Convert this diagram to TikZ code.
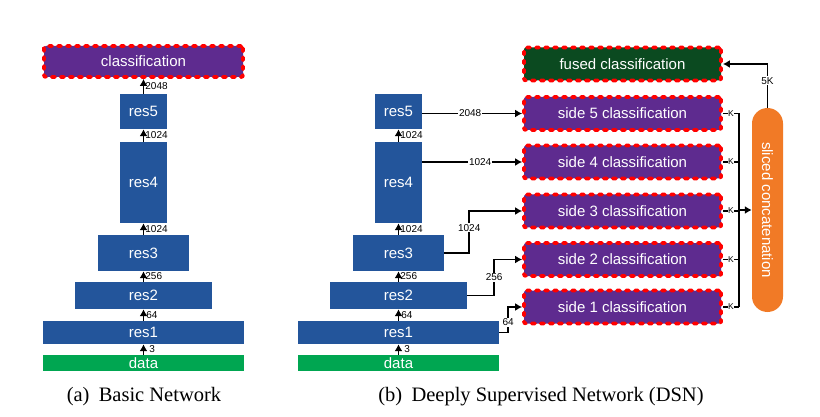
\documentclass[tikz,border=0pt]{standalone}
\usepackage{fontspec}
\setmainfont{Liberation Sans}
\newfontfamily\capfont{Liberation Serif}
\usepackage{tikz}
\usetikzlibrary{calc, arrows.meta}

\definecolor{resblue}{RGB}{35,85,155}
\definecolor{clspurple}{RGB}{94,43,143}
\definecolor{fusegreen}{RGB}{11,74,32}
\definecolor{datagreen}{RGB}{0,166,81}
\definecolor{concatorange}{RGB}{241,122,38}

\begin{document}
\begin{tikzpicture}[x=1pt, y=-1pt,
        res/.style={rectangle, fill=resblue, text=white, inner sep=0pt, font=\fontsize{15}{18}\selectfont},
        data/.style={res, fill=datagreen},
        cls/.style={rectangle, rounded corners=2pt, fill=clspurple, draw=red, line width=3.8pt,
            dash pattern=on 3pt off 6pt, line cap=round, text=white, inner sep=0pt,
            font=\fontsize{15}{18}\selectfont},
        fused/.style={cls, fill=fusegreen},
        flow/.style={line width=1.8pt, -{Latex[length=7pt, width=8pt]}},
        bus/.style={line width=1.6pt},
        lbl/.style={font=\fontsize{10}{12}\selectfont, inner sep=1pt},
        klbl/.style={font=\fontsize{8.5}{10}\selectfont, inner sep=0.5pt, fill=white},
        ]
    \useasboundingbox (0, 0) rectangle (820, 417);

    % (a) basic network
    \node (LD) at (143.5, 363) [data, minimum width=201pt, minimum height=16pt] {data};
    \node (L1) at (143.5, 332.5) [res, minimum width=201pt, minimum height=23pt] {res1};
    \node (L2) at (143.5, 295.5) [res, minimum width=137pt, minimum height=27pt] {res2};
    \node (L3) at (143.5, 253) [res, minimum width=91pt, minimum height=36pt] {res3};
    \node (L4) at (143.5, 182.5) [res, minimum width=47pt, minimum height=81pt] {res4};
    \node (L5) at (143.5, 111.5) [res, minimum width=47pt, minimum height=35pt] {res5};
    \node (LC) at (143.5, 61.5) [cls, minimum width=199pt, minimum height=31pt] {classification};

    \draw [flow] (LD) -- node [lbl, right, xshift=4pt] {3} (L1);
    \draw [flow] (L1) -- node [lbl, right, xshift=1pt] {64} (L2);
    \draw [flow] (L2) -- node [lbl, right] {256} (L3);
    \draw [flow] (L3) -- node [lbl, right] {1024} (L4);
    \draw [flow] (L4) -- node [lbl, right] {1024} (L5);
    \draw [flow] (L5) -- node [lbl, right] {2048} (LC);

    % (b) deeply supervised network
    \node (RD) at (398.5, 363) [data, minimum width=201pt, minimum height=16pt] {data};
    \node (R1) at (398.5, 332.5) [res, minimum width=201pt, minimum height=23pt] {res1};
    \node (R2) at (398.5, 295.5) [res, minimum width=137pt, minimum height=27pt] {res2};
    \node (R3) at (398.5, 253) [res, minimum width=91pt, minimum height=36pt] {res3};
    \node (R4) at (398.5, 182.5) [res, minimum width=47pt, minimum height=81pt] {res4};
    \node (R5) at (398.5, 111.5) [res, minimum width=47pt, minimum height=35pt] {res5};

    \draw [flow] (RD) -- node [lbl, right, xshift=4pt] {3} (R1);
    \draw [flow] (R1) -- node [lbl, right, xshift=1pt] {64} (R2);
    \draw [flow] (R2) -- node [lbl, right] {256} (R3);
    \draw [flow] (R3) -- node [lbl, right] {1024} (R4);
    \draw [flow] (R4) -- node [lbl, right] {1024} (R5);

    \node (F) at (622.5, 64) [fused, minimum width=197pt, minimum height=33pt] {fused classification};
    \node (S5) at (622.5, 113.5) [cls, minimum width=197pt, minimum height=33pt] {side 5 classification};
    \node (S4) at (622.5, 162) [cls, minimum width=197pt, minimum height=33pt] {side 4 classification};
    \node (S3) at (622.5, 211) [cls, minimum width=197pt, minimum height=33pt] {side 3 classification};
    \node (S2) at (622.5, 259.5) [cls, minimum width=197pt, minimum height=33pt] {side 2 classification};
    \node (S1) at (622.5, 307) [cls, minimum width=197pt, minimum height=33pt] {side 1 classification};

    \draw [flow] (R5.east |- S5) -- node [lbl, fill=white, pos=0.48] {2048} (S5.west);
    \draw [flow] (R4.east |- S4) -- node [lbl, fill=white, pos=0.58] {1024} (S4.west);
    \draw [flow] (R3.east) -- ++(25, 0) |- node [lbl, fill=white, pos=0.3] {1024} (S3.west);
    \draw [flow] (R2.east) -- ++(27, 0) |- node [lbl, fill=white, pos=0.25] {256} (S2.west);
    \draw [flow] (R1.east) -- ++(9, 0) |- node [lbl, fill=white, pos=0.2] {64} (S1.west);

    \node (C) at (767.5, 210) [rectangle, rounded corners=15.5pt, fill=concatorange, text=white,
        minimum width=31pt, minimum height=204pt, inner sep=0pt,
        font=\fontsize{15}{18}\selectfont] {\rotatebox{-90}{sliced concatenation}};
    \coordinate (B) at (739, 210);

    \foreach \s in {S1, S2, S3, S4, S5}
        \draw [bus] (\s.east) -- node [klbl] {K} (\s.east -| B);
    \draw [bus] (S5.east -| B) -- (S1.east -| B);
    \draw [flow] (B) -- (C.west);
    \draw [flow] (C.north) |- node [lbl, fill=white, pos=0.31] {5K} (F.east);

    % captions
    \node (CA) at (144, 401) [anchor=base, font=\capfont\fontsize{20.5}{24}\selectfont]
        {(a)\hspace{0.45em}Basic Network};
    \node (CB) at (541, 401) [anchor=base, font=\capfont\fontsize{20.5}{24}\selectfont]
        {(b)\hspace{0.45em}Deeply Supervised Network (DSN)};
\end{tikzpicture}
\end{document}
